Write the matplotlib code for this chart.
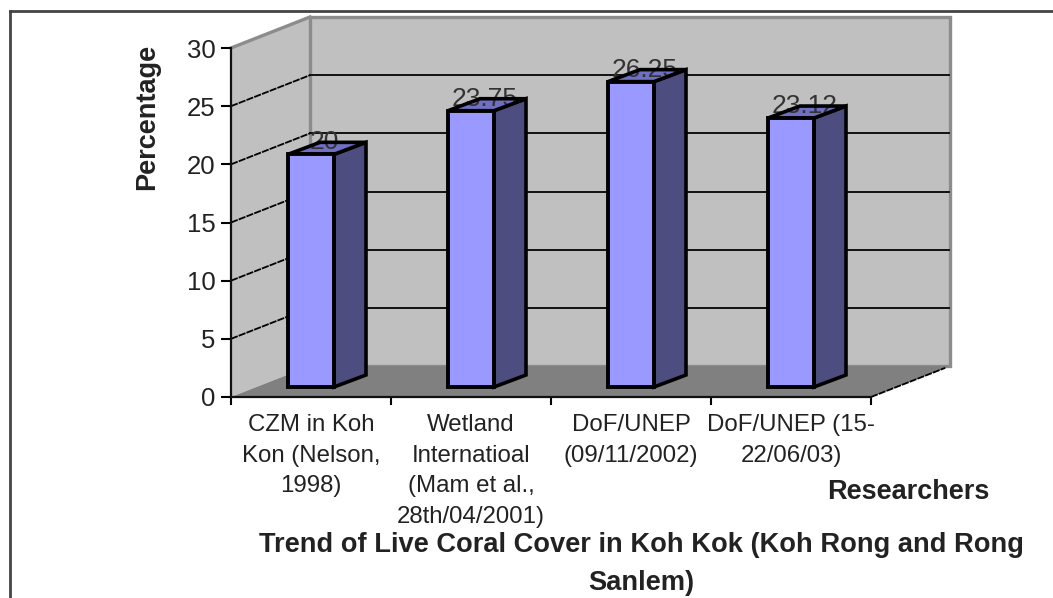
import matplotlib
matplotlib.use("Agg")
import matplotlib.pyplot as plt
from matplotlib.patches import Polygon, Rectangle

categories = ["CZM in Koh\nKon (Nelson,\n1998)",
              "Wetland\nInternatioal\n(Mam et al.,\n28th/04/2001)",
              "DoF/UNEP\n(09/11/2002)",
              "DoF/UNEP (15-\n22/06/03)"]
values = [20, 23.75, 26.25, 23.12]
value_labels = ["20", "23.75", "26.25", "23.12"]
y_ticks = [0, 5, 10, 15, 20, 25, 30]

W, H = 1053, 598
# front plane of the 3d box, in pixels
LEFT, RIGHT, BOTTOM, TOP = 231, 871, 397, 48
# depth of the box and of the bars, in axis units
unit_y = (BOTTOM - TOP) / 30.0
unit_x = (RIGHT - LEFT) / 4.0
BOX_DX = 79 / unit_x
BOX_DY = 31 / unit_y
BAR_W = 46 / unit_x
BAR_BASE = 10 / unit_y
BAR_DX = 32 / unit_x
BAR_DY = 12 / unit_y
LABEL_DX = 36.5 / unit_x

plt.rcParams["font.family"] = ["Liberation Sans", "DejaVu Sans"]
TEXT = "#222222"

fig = plt.figure(figsize=(W / 100, H / 100), dpi=100, facecolor="white")
ax = fig.add_axes([LEFT / W, 1 - BOTTOM / H, (RIGHT - LEFT) / W, (BOTTOM - TOP) / H])
ax.set_xlim(0, 4)
ax.set_ylim(0, 30)
ax.patch.set_visible(False)

# walls and floor
ax.add_patch(Polygon([(0, 0), (BOX_DX, BOX_DY), (BOX_DX, 30 + BOX_DY), (0, 30)],
                     closed=True, fc="#c0c0c0", ec="none", clip_on=False, zorder=1))
ax.add_patch(Rectangle((BOX_DX, BOX_DY), 4, 30, fc="#c0c0c0", ec="#8c8c8c", lw=2.4,
                       clip_on=False, zorder=1))
ax.plot([0, BOX_DX], [30, 30 + BOX_DY], color="#8c8c8c", lw=2.4, clip_on=False, zorder=1)
ax.add_patch(Polygon([(0, 0), (4, 0), (4 + BOX_DX, BOX_DY), (BOX_DX, BOX_DY)],
                     closed=True, fc="#808080", ec="none", clip_on=False, zorder=2))
ax.plot([4, 4 + BOX_DX * 0.94], [0, BOX_DY * 0.94], color="black", lw=1.3,
        ls=(0, (4, 0.6)), clip_on=False, zorder=3)

# gridlines on the back and side walls
for t in y_ticks[1:-1]:
    ax.plot([BOX_DX, 4 + BOX_DX * 0.985], [t + BOX_DY, t + BOX_DY], color="#111111", lw=1.4,
            clip_on=False, zorder=3)
    ax.plot([0, BOX_DX], [t, t + BOX_DY], color="black", lw=1.3, ls=(0, (4, 0.6)),
            clip_on=False, zorder=3)

# bars
for i, (v, lab) in enumerate(zip(values, value_labels)):
    x0 = i + 0.5 - BAR_W / 2
    x1 = x0 + BAR_W
    y0 = BAR_BASE
    y1 = BAR_BASE + v
    ax.add_patch(Polygon([(x1, y0), (x1 + BAR_DX, y0 + BAR_DY), (x1 + BAR_DX, y1 + BAR_DY), (x1, y1)],
                         closed=True, fc="#4d4d80", ec="black", lw=2.6, joinstyle="miter",
                         clip_on=False, zorder=4))
    top = Polygon([(x0, y1), (x1, y1), (x1 + BAR_DX, y1 + BAR_DY), (x0 + BAR_DX, y1 + BAR_DY)],
                  closed=True, fc="#6f6fc4", ec="none", clip_on=False, zorder=4)
    ax.add_patch(top)
    ax.text(x0 + LABEL_DX, y1 + BAR_DY, lab, ha="center", va="center",
            fontsize=19, color="#333333", clip_on=False, zorder=5)
    ax.add_patch(Polygon([(x0, y1), (x1, y1), (x1 + BAR_DX, y1 + BAR_DY), (x0 + BAR_DX, y1 + BAR_DY)],
                         closed=True, fc="none", ec="black", lw=2.6, joinstyle="miter",
                         clip_on=False, zorder=6))
    ax.add_patch(Rectangle((x0, y0), BAR_W, v, fc="#9999ff", ec="black", lw=2.8,
                           joinstyle="miter", clip_on=False, zorder=6))

# axes
for s in ("top", "right"):
    ax.spines[s].set_visible(False)
for s in ("left", "bottom"):
    ax.spines[s].set_linewidth(1.6)
    ax.spines[s].set_color("#111111")
    ax.spines[s].set_zorder(7)
ax.set_yticks(y_ticks)
ax.set_xticks(range(5))
ax.set_xticklabels([])
ax.set_xticks([i + 0.5 for i in range(4)], minor=True)
ax.set_xticklabels(categories, minor=True, fontsize=17.3, color=TEXT, linespacing=1.52)
ax.tick_params(axis="y", length=7, width=1.5, labelsize=18.5, labelcolor=TEXT, pad=4)
ax.tick_params(axis="x", which="major", length=6, width=1.5)
ax.tick_params(axis="x", which="minor", length=0, pad=12)

fig.text(147 / W, 1 - 117 / H, "Percentage", rotation=90, ha="center", va="center",
         fontsize=19.5, fontweight="bold", color=TEXT)
fig.text(908 / W, 1 - 492 / H, "Researchers", ha="center", va="center",
         fontsize=19.5, fontweight="bold", color=TEXT)
fig.text(641 / W, 1 - 564 / H, "Trend of Live Coral Cover in Koh Kok (Koh Rong and Rong\nSanlem)",
         ha="center", va="center", fontsize=19.6, fontweight="bold", color=TEXT, linespacing=1.55)

# outer frame of the chart area, open at the right and bottom
fig.add_artist(plt.Line2D([10 / W, 1], [1 - 10.5 / H, 1 - 10.5 / H], color="#444444", lw=2))
fig.add_artist(plt.Line2D([10 / W, 10 / W], [0, 1 - 10.5 / H], color="#444444", lw=2))

fig.savefig("out.png", dpi=100)
